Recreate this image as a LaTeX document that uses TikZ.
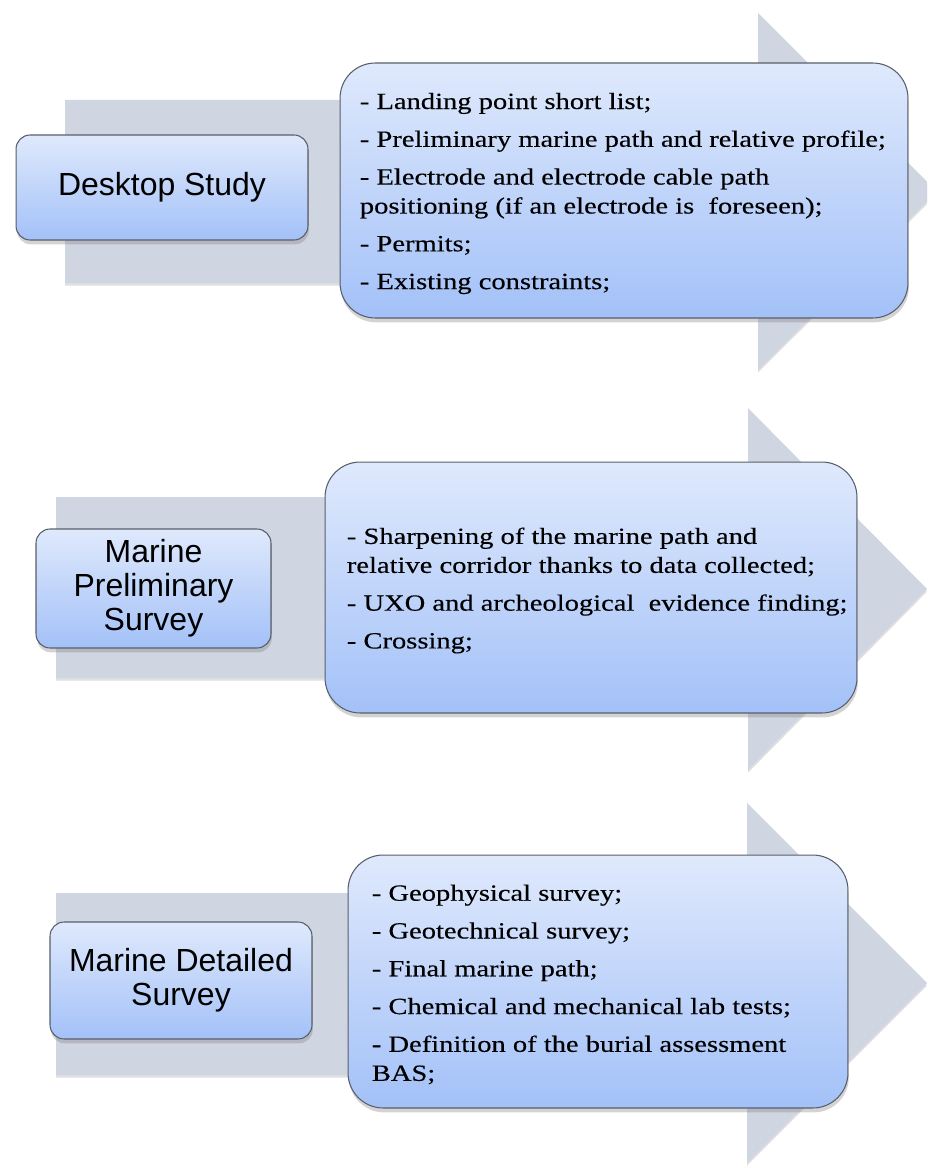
\documentclass[tikz,border=0pt]{standalone}
\usepackage{fontspec}
\usepackage{tikz}
\usetikzlibrary{positioning,shadows}
\newfontfamily\stagefont{Liberation Sans}
\newfontfamily\itemfont[FakeStretch=1.23,FakeBold=0.3]{Liberation Serif}
\definecolor{arrowgrey}{RGB}{208,213,226}
\definecolor{boxtop}{RGB}{223,233,252}
\definecolor{boxbottom}{RGB}{163,193,248}
\definecolor{boxline}{RGB}{88,94,106}
\tikzset{
	bigarrow/.style={fill=arrowgrey,draw=none,drop shadow={shadow xshift=0pt,shadow yshift=-1.5pt,opacity=.25}},
	stage/.style 2 args={rectangle,rounded corners=8pt,draw=boxline,line width=.6pt,top color=boxtop,bottom color=boxbottom,minimum width=#1,minimum height=#2,align=center,font=\stagefont\fontsize{18.2}{19.3}\selectfont,drop shadow={shadow xshift=.5pt,shadow yshift=-2.5pt,opacity=.35}},
	tasks/.style 2 args={rectangle,rounded corners=20pt,draw=boxline,line width=.6pt,top color=boxtop,bottom color=boxbottom,minimum width=#1,minimum height=#2,drop shadow={shadow xshift=.5pt,shadow yshift=-2.5pt,opacity=.35}},
	tasktext/.style={inner sep=0pt,align=left,font=\itemfont\fontsize{13.2}{16.5}\selectfont}
}
\begin{document}
\begin{tikzpicture}[x=0.02cm,y=-0.02cm]
	\useasboundingbox (0,0) rectangle (927,1166);
	\clip (0,0) rectangle (927,1166);

	\fill [bigarrow] (65,100) -- (758,100) -- (758,13) -- (937,191.5) -- (758,370) -- (758,283) -- (65,283) -- cycle;
	\fill [bigarrow] (56,497) -- (748,497) -- (748,408) -- (927,589) -- (748,770) -- (748,678) -- (56,678) -- cycle;
	\fill [bigarrow] (56,893) -- (747,893) -- (747,803) -- (927,983) -- (747,1163) -- (747,1075) -- (56,1075) -- cycle;

	\node [stage={5.84cm}{2.1cm}] (desk) at (162,187.5) {Desktop Study};
	\node [tasks={11.36cm}{5.1cm}] (deskbox) at (624,190.5) {};
	\node [tasktext,right=0.4cm of deskbox.west,yshift=-0.06cm] (desklist) {- Landing point short list;\\[5pt]
		- Preliminary marine path and relative profile;\\[5pt]
		- Electrode and electrode cable path\\
		positioning (if an electrode is~ foreseen);\\[5pt]
		- Permits;\\[5pt]
		- Existing constraints;};

	\node [stage={4.7cm}{2.38cm}] (prelim) at (153.5,588.5) {Marine\\Preliminary\\Survey};
	\node [tasks={10.64cm}{5.02cm}] (prelimbox) at (591,587.5) {};
	\node [tasktext,right=0.44cm of prelimbox.west,yshift=-0.06cm] (prelimlist) {- Sharpening of the marine path and\\
		relative corridor thanks to data collected;\\[5pt]
		- UXO and archeological~ evidence finding;\\[5pt]
		- Crossing;};

	\node [stage={5.24cm}{2.34cm}] (detail) at (181,980.5) {Marine Detailed\\Survey};
	\node [tasks={10cm}{5.06cm}] (detailbox) at (598,981.5) {};
	\node [tasktext,right=0.48cm of detailbox.west,yshift=-0.06cm] (detaillist) {- Geophysical survey;\\[5pt]
		- Geotechnical survey;\\[5pt]
		- Final marine path;\\[5pt]
		- Chemical and mechanical lab tests;\\[5pt]
		- Definition of the burial assessment\\
		BAS;};
\end{tikzpicture}
\end{document}
